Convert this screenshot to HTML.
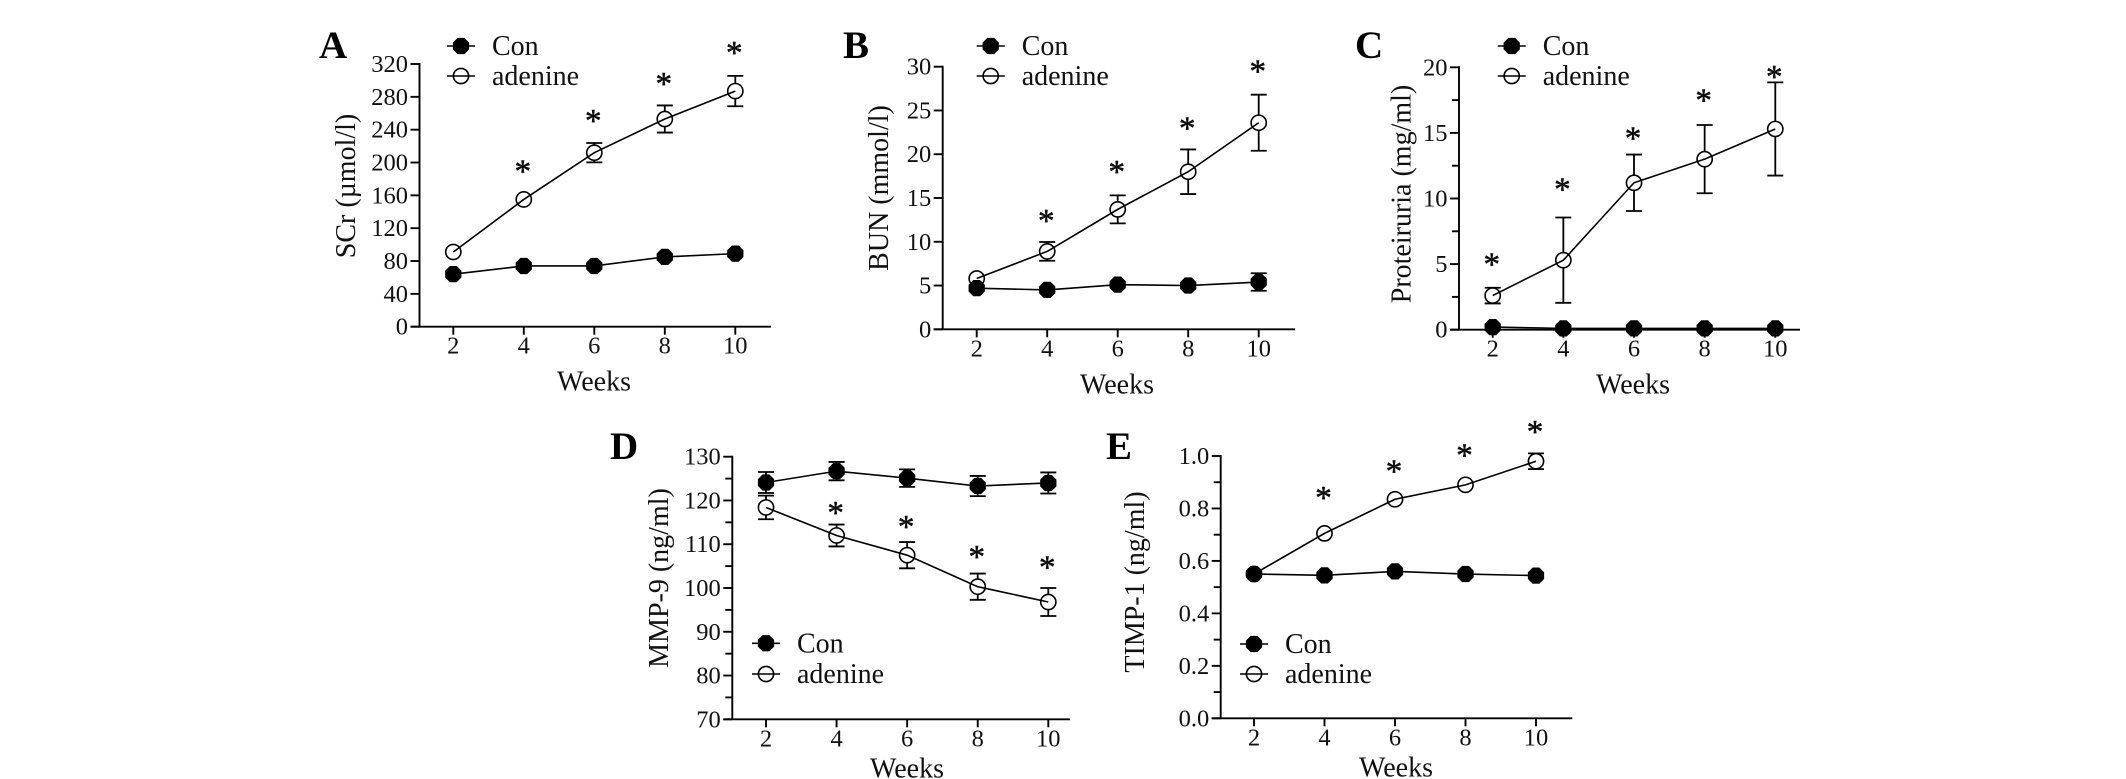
<!DOCTYPE html>
<html lang="en">
<head>
<meta charset="utf-8">
<title>Renal markers over 10 weeks</title>
<style>
html,body{margin:0;padding:0;background:#fff;width:2126px;height:779px;overflow:hidden}
svg{display:block}
text{font-family:"Liberation Serif",serif;fill:#111}
</style>
</head>
<body>
<svg id="figure" width="2126" height="779" viewBox="0 0 2126 779" xmlns="http://www.w3.org/2000/svg"></svg>
<script>
const weeks = [2, 4, 6, 8, 10];

const aYTicks = ['0', '40', '80', '120', '160', '200', '240', '280', '320'];
const aCon = [64, 74, 74, 85, 89];
const aConErr = [0, 0, 0, 0, 0];
const aAdenine = [91, 155, 212, 253, 287];
const aAdenineErr = [0, 0, 11.8, 16.5, 18.5];
const aStars = [null, 193, 254, 299, 337];

const bYTicks = ['0', '5', '10', '15', '20', '25', '30'];
const bCon = [4.7, 4.5, 5.1, 5.0, 5.4];
const bConErr = [0, 0, 0, 0, 1.0];
const bAdenine = [5.8, 8.9, 13.7, 18.0, 23.6];
const bAdenineErr = [0, 1.07, 1.6, 2.55, 3.2];
const bStars = [null, 12.7, 18.3, 23.3, 29.8];

const cYTicks = ['0', '5', '10', '15', '20'];
const cCon = [0.2, 0.1, 0.1, 0.1, 0.1];
const cConErr = [0, 0, 0, 0, 0];
const cAdenine = [2.6, 5.3, 11.2, 13.0, 15.3];
const cAdenineErr = [0.6, 3.25, 2.15, 2.6, 3.55];
const cStars = [5.2, 10.9, 14.8, 17.7, 19.5];

const dYTicks = ['70', '80', '90', '100', '110', '120', '130'];
const dCon = [124.1, 126.7, 125.1, 123.3, 124.0];
const dConErr = [2.4, 2.1, 2.0, 2.3, 2.4];
const dAdenine = [118.4, 112.0, 107.5, 100.3, 96.8];
const dAdenineErr = [2.7, 2.5, 3.0, 3.0, 3.2];
const dStars = [null, 117.8, 114.6, 107.8, 105.4];

const eYTicks = ['0.0', '0.2', '0.4', '0.6', '0.8', '1.0'];
const eCon = [0.55, 0.545, 0.56, 0.55, 0.544];
const eConErr = [0, 0, 0, 0, 0];
const eAdenine = [0.55, 0.705, 0.835, 0.89, 0.98];
const eAdenineErr = [0, 0, 0, 0, 0.03];
const eStars = [null, 0.851, 0.953, 1.014, 1.103];

const svg = document.getElementById('figure');
const NS = 'http://www.w3.org/2000/svg';

function make(tag, attrs, name, parent, text) {
  const el = document.createElementNS(NS, tag);
  for (const k in attrs) el.setAttribute(k, attrs[k]);
  
  
  if (text !== undefined) el.textContent = text;
  parent.appendChild(el);
  return el;
}

function octagon(cx, cy, r) {
  const pts = [];
  for (let i = 0; i < 8; i++) {
    const a = Math.PI / 8 + i * Math.PI / 4;
    pts.push((cx + r * Math.cos(a)).toFixed(2) + ',' + (cy + r * Math.sin(a)).toFixed(2));
  }
  return pts.join(' ');
}

function drawMarker(kind, cx, cy, parent, name) {
  if (kind === 'con') {
    make('polygon', { points: octagon(cx, cy, 8.8), fill: '#000' }, name, parent);
  } else {
    make('circle', { cx: cx, cy: cy, r: 7.6, fill: '#fff', stroke: '#000', 'stroke-width': 1.6 }, name, parent);
  }
}

function drawSeries(p, kind, values, errors, sx, sy, parent) {
  const g = make('g', {}, 'series-' + kind, parent);
  values.forEach(function (v, i) {
    const e = errors[i];
    if (!e) return;
    const x = sx(weeks[i]);
    const d = 'M' + x + ' ' + sy(v - e) + 'V' + sy(v + e) +
      'M' + (x - 8) + ' ' + sy(v - e) + 'h16M' + (x - 8) + ' ' + sy(v + e) + 'h16';
    make('path', { d: d, stroke: '#000', 'stroke-width': 1.8, fill: 'none' }, 'error-bar-' + kind + '-week-' + weeks[i], g);
  });
  values.forEach(function (v, i) {
    drawMarker(kind, sx(weeks[i]), sy(v), g, 'point-' + kind + '-week-' + weeks[i]);
  });
  const pts = values.map(function (v, i) { return sx(weeks[i]) + ',' + sy(v); }).join(' ');
  make('polyline', { points: pts, fill: 'none', stroke: '#000', 'stroke-width': 1.6 }, 'line-' + kind, g);
}

function drawPanel(p) {
  const g = make('g', {}, 'panel-' + p.letter.toLowerCase(), svg);
  const yLo = parseFloat(p.yTicks[0]);
  const yHi = parseFloat(p.yTicks[p.yTicks.length - 1]);
  const sx = function (w) { return p.x2 + (w - 2) * (p.x10 - p.x2) / 8; };
  const sy = function (v) { return p.y0 + (v - yLo) * (p.yTop - p.y0) / (yHi - yLo); };

  make('text', { x: p.letterX, y: p.letterY, 'font-size': 39, 'font-weight': 'bold', style: 'fill:#000' }, 'panel-letter', g, p.letter);

  const axes = make('g', { stroke: '#000', 'stroke-width': 1.9, fill: 'none' }, 'axes', g);
  make('line', { x1: p.axisX, x2: p.axisX, y1: p.yTop - 1, y2: p.y0 }, 'y-axis', axes);
  make('line', { x1: p.axisX - 9, x2: p.xEnd, y1: p.y0, y2: p.y0 }, 'x-axis', axes);

  p.yTicks.forEach(function (label, i) {
    const v = parseFloat(label);
    const y = sy(v);
    make('line', { x1: p.axisX - 9, x2: p.axisX, y1: y, y2: y }, 'y-tick', axes);
    make('text', { x: p.axisX - 11.5, y: y + 8, 'text-anchor': 'end', 'font-size': 24.5 }, 'y-tick-label', g, label);
    if (p.minor && i > 0) {
      const mid = sy((v + parseFloat(p.yTicks[i - 1])) / 2);
      make('line', { x1: p.axisX - 7, x2: p.axisX, y1: mid, y2: mid }, 'y-minor-tick', axes);
    }
  });

  weeks.forEach(function (w) {
    const x = sx(w);
    make('line', { x1: x, x2: x, y1: p.y0, y2: p.y0 + 8 }, 'x-tick', axes);
    make('text', { x: x, y: p.y0 + 27, 'text-anchor': 'middle', 'font-size': 24.5 }, 'x-tick-label', g, String(w));
  });

  make('text', { x: p.weeksX, y: p.y0 + p.weeksDy, 'text-anchor': 'middle', 'font-size': 28 }, 'x-axis-title', g, 'Weeks');
  make('text', {
    x: 0, y: 0, 'text-anchor': 'middle', 'font-size': 28,
    transform: 'translate(' + p.yLabelX + ' ' + p.yLabelY + ') rotate(-90)'
  }, 'y-axis-title', g, p.yLabel);

  drawSeries(p, 'adenine', p.adenine, p.adenineErr, sx, sy, g);
  drawSeries(p, 'con', p.con, p.conErr, sx, sy, g);

  p.stars.forEach(function (s, i) {
    if (s === null) return;
    make('text', {
      x: sx(weeks[i]) - 1, y: sy(s) + 13.5, 'text-anchor': 'middle', 'font-size': 33,
      stroke: '#000', 'stroke-width': 0.5
    }, 'significance-star', g, '*');
  });

  const leg = make('g', {}, 'legend', g);
  [['con', 'Con', p.legY1], ['adenine', 'adenine', p.legY2]].forEach(function (row) {
    const entry = make('g', {}, 'legend-entry-' + row[0], leg);
    drawMarker(row[0], p.legX, row[2], entry, 'legend-marker');
    make('line', { x1: p.legX - 14, x2: p.legX + 14, y1: row[2], y2: row[2], stroke: '#000', 'stroke-width': 1.6 }, 'legend-line', entry);
    make('text', { x: p.legX + 31, y: row[2] + 9, 'font-size': 28 }, 'legend-label', entry, row[1]);
  });
}

drawPanel({
  letter: 'A', letterX: 319, letterY: 58,
  axisX: 419.5, y0: 326.7, yTop: 64, x2: 453.3, x10: 735.3, xEnd: 771,
  weeksX: 594, weeksDy: 64, yLabel: 'SCr (µmol/l)', yLabelX: 355, yLabelY: 186,
  yTicks: aYTicks, minor: false, con: aCon, conErr: aConErr, adenine: aAdenine, adenineErr: aAdenineErr, stars: aStars,
  legX: 461, legY1: 46, legY2: 76
});
drawPanel({
  letter: 'B', letterX: 843, letterY: 58,
  axisX: 942.7, y0: 329.3, yTop: 66.7, x2: 976.7, x10: 1258.7, xEnd: 1295,
  weeksX: 1117, weeksDy: 64, yLabel: 'BUN (mmol/l)', yLabelX: 888, yLabelY: 188,
  yTicks: bYTicks, minor: false, con: bCon, conErr: bConErr, adenine: bAdenine, adenineErr: bAdenineErr, stars: bStars,
  legX: 990.7, legY1: 46, legY2: 76
});
drawPanel({
  letter: 'C', letterX: 1355, letterY: 58,
  axisX: 1459, y0: 329.7, yTop: 67.3, x2: 1492.7, x10: 1775.3, xEnd: 1800,
  weeksX: 1633, weeksDy: 64, yLabel: 'Proteiruria (mg/ml)', yLabelX: 1410.7, yLabelY: 194,
  yTicks: cYTicks, minor: true, con: cCon, conErr: cConErr, adenine: cAdenine, adenineErr: cAdenineErr, stars: cStars,
  legX: 1511.7, legY1: 46, legY2: 76
});
drawPanel({
  letter: 'D', letterX: 610, letterY: 459,
  axisX: 732.3, y0: 719.3, yTop: 456.7, x2: 766, x10: 1048.3, xEnd: 1070,
  weeksX: 907, weeksDy: 58, yLabel: 'MMP-9 (ng/ml)', yLabelX: 668, yLabelY: 578,
  yTicks: dYTicks, minor: true, con: dCon, conErr: dConErr, adenine: dAdenine, adenineErr: dAdenineErr, stars: dStars,
  legX: 766, legY1: 643.3, legY2: 674
});
drawPanel({
  letter: 'E', letterX: 1106, letterY: 459,
  axisX: 1220.7, y0: 718.3, yTop: 456, x2: 1254, x10: 1536, xEnd: 1572.3,
  weeksX: 1396, weeksDy: 58, yLabel: 'TIMP-1 (ng/ml)', yLabelX: 1144, yLabelY: 582,
  yTicks: eYTicks, minor: true, con: eCon, conErr: eConErr, adenine: eAdenine, adenineErr: eAdenineErr, stars: eStars,
  legX: 1254, legY1: 644, legY2: 674
});
</script>
</body>
</html>
